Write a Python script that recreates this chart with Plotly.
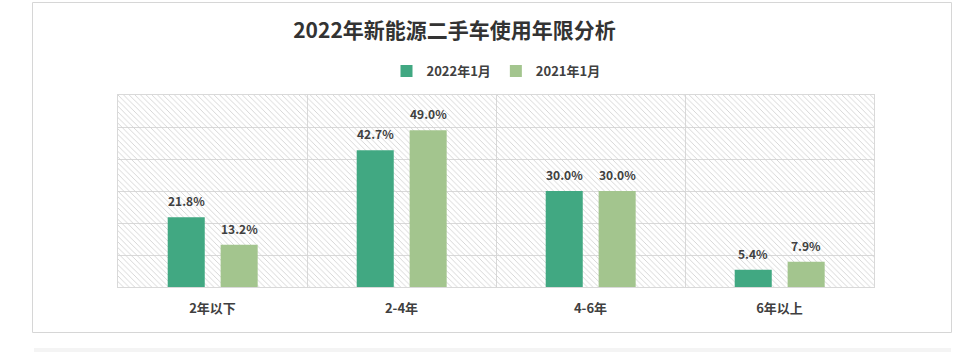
import plotly.graph_objects as go

categories = ["2年以下", "2-4年", "4-6年", "6年以上"]
series_names = ["2022年1月", "2021年1月"]
values_2022 = [21.8, 42.7, 30.0, 5.4]
values_2021 = [13.2, 49.0, 30.0, 7.9]
y_max = 60

W, H = 960, 352
L, R, T, B = 118, 86, 95, 65
pw, ph = W - L - R, H - T - B

def px_x(p):
    return (p - L) / pw

def px_y(p):
    return (H - B - p) / ph

FONT = "Noto Sans CJK SC"
TXT = "#404040"
DARK = "#41a882"
LIGHT = "#a3c58e"
GRID = "#d9d9d9"

bw = 0.196
offsets = [-0.237, 0.043]

fig = go.Figure()

# hatched plot background
fig.add_trace(go.Bar(
    x=categories, y=[y_max] * len(categories), width=1, offset=-0.5,
    marker=dict(color="rgba(0,0,0,0)", line=dict(width=0),
                pattern=dict(shape="\\", fgcolor="#d2d2d2", bgcolor="rgba(0,0,0,0)",
                             size=4, solidity=0.22, fillmode="replace")),
    showlegend=False, hoverinfo="skip",
))

for name, vals, col, off in [(series_names[0], values_2022, DARK, offsets[0]),
                             (series_names[1], values_2021, LIGHT, offsets[1])]:
    fig.add_trace(go.Bar(
        name=name, x=categories, y=vals, width=bw, offset=off,
        marker=dict(color=col, line=dict(width=0)),
    ))

annotations = []
for vals, off in [(values_2022, offsets[0]), (values_2021, offsets[1])]:
    for i, v in enumerate(vals):
        annotations.append(dict(
            x=i + off + bw / 2, y=v, xref="x", yref="y", text=f"{v:.1f}%",
            showarrow=False, xanchor="center", yanchor="bottom", yshift=6,
            font=dict(family=FONT, size=12, color=TXT, weight="bold"),
        ))

fig.update_layout(
    width=W, height=H,
    margin=dict(l=L, r=R, t=T, b=B),
    paper_bgcolor="white", plot_bgcolor="white",
    barmode="overlay",
    title=dict(text="2022年新能源二手车使用年限分析", xref="container", yref="container",
               x=454.5 / W, xanchor="center", y=1 - 31 / H, yanchor="middle",
               font=dict(family=FONT, size=21, color="#333333", weight="bold")),
    legend=dict(orientation="h", x=0.5, xanchor="center", y=px_y(71), yanchor="middle",
                font=dict(family=FONT, size=13, color=TXT, weight="bold"),
                itemwidth=30, traceorder="normal", bgcolor="rgba(0,0,0,0)"),
    font=dict(family=FONT, color=TXT),
    xaxis=dict(type="category", tickson="boundaries", showgrid=True, gridcolor=GRID,
               gridwidth=1, ticks="", showline=True, mirror=True, linecolor=GRID,
               tickfont=dict(family=FONT, size=13, color=TXT, weight="bold"),
               ticklabelstandoff=9, range=[-0.5, 3.5], fixedrange=True),
    yaxis=dict(range=[0, y_max], dtick=10, showgrid=True, gridcolor=GRID, gridwidth=1,
               showticklabels=False, zeroline=False, showline=True, mirror=True,
               linecolor=GRID, fixedrange=True),
    annotations=annotations,
    shapes=[
        dict(type="rect", xref="paper", yref="paper",
             x0=px_x(32.5), x1=px_x(951.5), y0=px_y(332.5), y1=px_y(2.5),
             line=dict(color="#d6d6d6", width=1), fillcolor="rgba(0,0,0,0)", layer="below"),
        dict(type="rect", xref="paper", yref="paper",
             x0=px_x(34), x1=px_x(951), y0=px_y(352), y1=px_y(348),
             line=dict(width=0), fillcolor="#f4f4f4", layer="below"),
    ],
)

fig.write_html("out.html")
